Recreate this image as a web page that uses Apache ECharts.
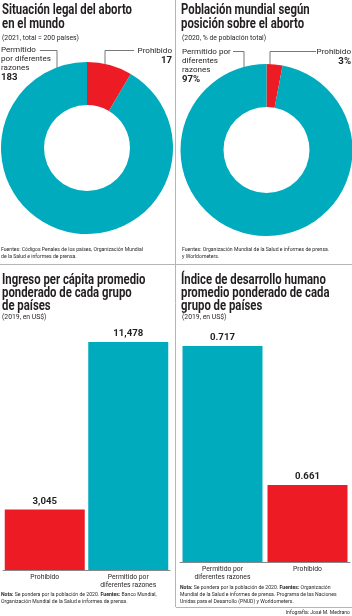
<!DOCTYPE html>
<html>
<head>
<meta charset="utf-8">
<script src="https://cdn.jsdelivr.net/npm/echarts@6/dist/echarts.min.js"></script>
<style>
html, body { margin: 0; padding: 0; background: #fff; }
#chart { width: 352px; height: 616px; }
</style>
</head>
<body>
<div id="chart"></div>
<script>
var leyesCats = ['Prohibido', 'Permitido\npor diferentes\nrazones'];
var leyesPaises = [17, 183];
var poblacionCats = ['Prohibido', 'Permitido por\ndiferentes\nrazones'];
var poblacionPct = [3, 97];
var ingresoCats = ['Prohibido', 'Permitido por\ndiferentes razones'];
var ingresoVals = [3045, 11478];
var idhCats = ['Permitido por\ndiferentes razones', 'Prohibido'];
var idhVals = [0.717, 0.661];

var ROJO = '#ed1c24';
var TURQ = '#00abbd';
var TXT = '#231f20';
var FONT = 'Roboto, "DejaVu Sans", sans-serif';

// medir texto para condensar (la fuente original es muy angosta)
var ctx = document.createElement('canvas').getContext('2d');
function medir(txt, font) { ctx.font = font; return ctx.measureText(txt).width; }
var escTitulo = 130 / medir('Situación legal del aborto', 'bold 14px ' + FONT);
var escSub = 77 / medir('(2021, total = 200 países)', '7.5px ' + FONT);
var escNota = 142 / medir('Fuentes: Códigos Penales de los países, Organización Mundial', '5.6px ' + FONT);
var tamPie = Math.min(8.5, 10 * 50 / medir('por diferentes', '10px ' + FONT));
var tamValor = Math.min(10.5, 10 * 30 / medir('11,478', 'bold 10px ' + FONT));
var tamEje = Math.min(8, 10 * 56 / medir('diferentes razones', '10px ' + FONT));

function colorPor(p) {
  return p.name === 'Prohibido' ? ROJO : TURQ;
}

// posicion de etiquetas y lineas guia de las donas (px)
var guias = [
  [
    { x: 172, y: 46, align: 'right', pts: [[105, 70], [105, 50.5], [134, 50.5]] },
    { x: 1, y: 45.5, align: 'left', pts: [[57, 68], [57, 50.5], [40, 50.5]] }
  ],
  [
    { x: 351, y: 47, align: 'right', pts: [[270, 66], [270, 51.5], [316, 51.5]] },
    { x: 182, y: 47.5, align: 'left', pts: [[244, 68], [244, 51.5], [233, 51.5]] }
  ]
];

function pieData(cats, vals) {
  return cats.map(function (c, i) {
    return { name: c, value: vals[i], itemStyle: { color: c === 'Prohibido' ? ROJO : TURQ } };
  });
}

function pieSerie(idx, center, cats, vals, suf) {
  return {
    type: 'pie',
    center: center,
    radius: [43, 86],
    startAngle: 90,
    clockwise: true,
    silent: true,
    data: pieData(cats, vals),
    label: {
      show: true,
      position: 'outside',
      width: 80,
      overflow: 'none',
      color: TXT,
      fontFamily: FONT,
      fontSize: tamPie,
      lineHeight: 9,
      formatter: function (p) {
        return p.name + '\n{v|' + p.value + suf + '}';
      },
      rich: {
        v: { fontFamily: FONT, fontWeight: 'bold', fontSize: tamValor, lineHeight: 11, color: TXT }
      }
    },
    labelLine: { show: true, lineStyle: { color: '#555', width: 0.8 } },
    labelLayout: function (p) {
      var g = guias[idx][p.dataIndex];
      return {
        x: g.x, y: g.y, align: g.align, verticalAlign: 'top',
        labelLinePoints: g.pts
      };
    }
  };
}

function barSerie(gi, vals, fmt) {
  return {
    type: 'bar',
    xAxisIndex: gi,
    yAxisIndex: gi,
    barWidth: 80,
    silent: true,
    data: vals,
    itemStyle: { color: colorPor },
    label: {
      show: true,
      position: 'top',
      distance: 3,
      color: TXT,
      fontFamily: FONT,
      fontWeight: 'bold',
      fontSize: tamValor,
      formatter: function (p) { return fmt(p.value); }
    }
  };
}

function eje(gi, cats) {
  return {
    type: 'category',
    gridIndex: gi,
    data: cats,
    axisLine: { lineStyle: { color: '#888', width: 1 } },
    axisTick: { show: false },
    axisLabel: {
      interval: 0, color: TXT, fontFamily: FONT, fontSize: tamEje, lineHeight: 8.5, margin: 3
    }
  };
}

function texto(x, y, txt, font, lh, esc, extra) {
  var el = {
    type: 'text', x: x, y: y, scaleX: esc, silent: true,
    style: { text: txt, fill: TXT, font: font, lineHeight: lh }
  };
  if (extra) { for (var k in extra) el.style[k] = extra[k]; }
  return el;
}

function titulo(x, y, txt, lh) {
  return texto(x, y, txt, 'bold 14px ' + FONT, lh, escTitulo);
}

function sub(x, y, txt) {
  return texto(x, y, txt, '7.5px ' + FONT, 8, escSub);
}

function nota(x, y, txt, align) {
  return texto(x, y, txt, '5.6px ' + FONT, 7, escNota, {
    align: align || 'left',
    rich: { b: { fontFamily: FONT, fontSize: 5.6, fontWeight: 'bold', fill: TXT, lineHeight: 7 } }
  });
}

function linea(x1, y1, x2, y2) {
  return { type: 'line', silent: true, shape: { x1: x1, y1: y1, x2: x2, y2: y2 }, style: { stroke: '#b5b5b5', lineWidth: 1 } };
}

var chart = echarts.init(document.getElementById('chart'));
chart.setOption({
  animation: false,
  backgroundColor: '#fff',
  grid: [
    { left: 3, width: 167, top: 342, height: 228 },
    { left: 180, width: 170, top: 346, height: 216 }
  ],
  xAxis: [eje(0, ingresoCats), eje(1, idhCats)],
  yAxis: [
    { type: 'value', gridIndex: 0, show: false, min: 0, max: 'dataMax', splitLine: { show: false } },
    { type: 'value', gridIndex: 1, show: false, min: 0.63, max: 'dataMax', splitLine: { show: false } }
  ],
  series: [
    pieSerie(0, [87, 148], leyesCats, leyesPaises, ''),
    pieSerie(1, [266.5, 150], poblacionCats, poblacionPct, '%'),
    barSerie(0, ingresoVals, function (v) { return v.toLocaleString('en-US'); }),
    barSerie(1, idhVals, function (v) { return v.toFixed(3); })
  ],
  graphic: [
    linea(175.5, 0, 175.5, 607),
    linea(0, 264.5, 352, 264.5),
    linea(176, 607.5, 352, 607.5),
    titulo(2, 4, 'Situación legal del aborto\nen el mundo', 13.5),
    sub(2, 34, '(2021, total = 200 países)'),
    titulo(181, 4, 'Población mundial según\nposición sobre el aborto', 13.5),
    sub(182, 34, '(2020, % de población total)'),
    titulo(2, 274, 'Ingreso per cápita promedio\nponderado de cada grupo\nde países', 12.8),
    sub(2, 313, '(2019, en US$)'),
    titulo(181, 274, 'Índice de desarrollo humano\npromedio ponderado de cada\ngrupo de países', 12.8),
    sub(182, 313, '(2019, en US$)'),
    nota(1, 246, 'Fuentes: Códigos Penales de los países, Organización Mundial\nde la Salud e informes de prensa.'),
    nota(182, 246, 'Fuentes: Organización Mundial de la Salud e informes de prensa.\ny Worldometers.'),
    nota(1, 591, '{b|Nota:} Se pondera por la población de 2020. {b|Fuentes:} Banco Mundial,\nOrganización Mundial de la Salud e informes de prensa.'),
    nota(180, 584, '{b|Nota:} Se pondera por la población de 2020. {b|Fuentes:} Organización\nMundial de la Salud e informes de prensa. Programa de las Naciones\nUnidas para el Desarrollo (PNUD) y Worldometers.'),
    nota(350, 609, 'Infografía: José M. Medrano', 'right')
  ]
});
</script>
</body>
</html>
